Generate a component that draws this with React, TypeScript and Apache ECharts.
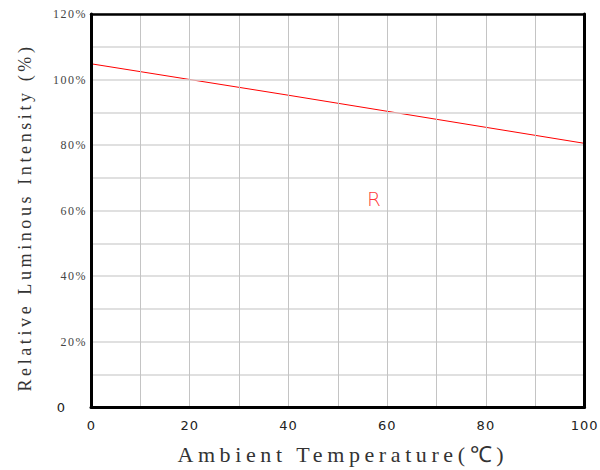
import React, { useEffect, useRef } from "react";
import * as echarts from "echarts";

const temps = [0, 20, 40, 60, 80, 100];
const intensity = [104.8, 100, 95.2, 90.3, 85.4, 80.5];
const seriesName = "R";
const labelPos = [57.3, 63.4];
const xTitle = "Ambient Temperature(℃)";
const yTitle = "Relative Luminous Intensity (%)";

export default function App() {
  const ref = useRef<HTMLDivElement>(null);
  useEffect(() => {
    const chart = echarts.init(ref.current!, null, { renderer: "svg" });
    const frameAxis = { show: true, onZero: false, lineStyle: { color: "#000", width: 3 } };
    chart.setOption({
      animation: false,
      backgroundColor: "#ffffff",
      grid: { left: 91, right: 15, top: 14, bottom: 62, show: false },
      xAxis: [
        {
          type: "value",
          min: 0,
          max: 100,
          interval: 10,
          name: xTitle,
          nameLocation: "middle",
          nameGap: 36,
          nameTextStyle: { fontFamily: "Liberation Serif", fontSize: 22, color: "#333", padding: [0, 0, 0, 10] },
          axisLine: frameAxis,
          axisTick: { show: false },
          splitLine: { show: true, lineStyle: { color: "#c4c4c4", width: 1 } },
          axisLabel: {
            margin: 12,
            fontFamily: "DejaVu Sans",
            fontSize: 13,
            color: "#222",
            formatter: (v: number) => (v % 20 === 0 ? String(v) : ""),
          },
          z: 5,
        },
        {
          type: "value",
          position: "top",
          min: 0,
          max: 100,
          axisLine: { show: true, onZero: false, lineStyle: { color: "#000", width: 2.5 } },
          axisTick: { show: false },
          axisLabel: { show: false },
          splitLine: { show: false },
          z: 5,
        },
      ],
      yAxis: [
        {
          type: "value",
          min: 0,
          max: 120,
          interval: 10,
          name: yTitle,
          nameLocation: "middle",
          nameGap: 57,
          nameRotate: 90,
          nameTextStyle: { fontFamily: "Liberation Serif", fontSize: 18, color: "#333", padding: [0, 0, 0, -14] },
          axisLine: frameAxis,
          axisTick: { show: false },
          splitLine: { show: true, lineStyle: { color: "#d6d6d6", width: 1.5 } },
          axisLabel: {
            margin: 4,
            fontFamily: "Liberation Serif",
            fontSize: 12,
            color: "#444",
            formatter: (v: number) => (v === 0 ? "{z|0}" : v % 20 === 0 ? v + "%" : ""),
            rich: {
              z: { fontFamily: "DejaVu Sans", fontSize: 13, color: "#222", padding: [0, 22, 0, 0] },
            },
          },
          z: 5,
        },
        {
          type: "value",
          position: "right",
          min: 0,
          max: 120,
          axisLine: frameAxis,
          axisTick: { show: false },
          axisLabel: { show: false },
          splitLine: { show: false },
          z: 5,
        },
      ],
      series: [
        {
          type: "line",
          name: seriesName,
          data: temps.map((t, i) => [t, intensity[i]]),
          showSymbol: false,
          symbol: "none",
          lineStyle: { color: "#ff0000", width: 1 },
        },
        {
          type: "scatter",
          data: [labelPos],
          symbolSize: 0,
          label: {
            show: true,
            position: "inside",
            formatter: seriesName,
            fontFamily: "DejaVu Sans",
            fontWeight: 200,
            fontSize: 20,
            color: "#ff0000",
          },
        },
      ],
    });
    const applySpacing = () => {
      const root = ref.current;
      if (!root) return;
      root.querySelectorAll("text").forEach((t) => {
        const s = t.textContent || "";
        const el = t as unknown as SVGTextElement;
        if (s === xTitle) el.style.letterSpacing = "4.6px";
        else if (s === yTitle) el.style.letterSpacing = "3.6px";
        else if (/%$/.test(s)) el.style.letterSpacing = "1.5px";
        else if (/^\d+$/.test(s) && s !== "0") el.style.letterSpacing = "1px";
      });
    };
    chart.on("finished", applySpacing);
    chart.on("rendered", applySpacing);
    applySpacing();
    const timer = setTimeout(applySpacing, 50);
    return () => {
      clearTimeout(timer);
      chart.dispose();
    };
  }, []);
  return (
    <div
      ref={ref}
      style={{ position: "fixed", left: 0, top: 0, width: 600, height: 470 }}
    />
  );
}
